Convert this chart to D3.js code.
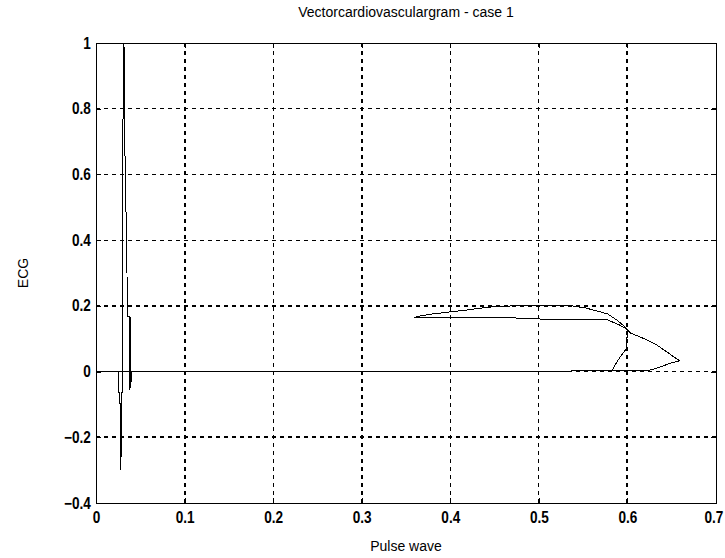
<!DOCTYPE html>
<html>
<head>
<meta charset="utf-8">
<script src="https://cdn.jsdelivr.net/npm/d3@7/dist/d3.min.js"></script>
<style>
  body { margin: 0; background: #fff; }
  text { font-family: "Liberation Sans", Arial, sans-serif; fill: #000; }
</style>
</head>
<body>
<svg id="chart"></svg>
<script>
// tick values
const xTicks = [0, 0.1, 0.2, 0.3, 0.4, 0.5, 0.6, 0.7]
const yTicks = [-0.4, -0.2, 0, 0.2, 0.4, 0.6, 0.8, 1]

// QRS part (pulse wave hardly moves)
const qrsPulse = [0.0250, 0.0250, 0.0270, 0.0275, 0.0280, 0.0285, 0.0290, 0.0297, 0.0296, 0.0308, 0.0312,
                  0.0320, 0.0318, 0.0325, 0.0338, 0.0343, 0.0350, 0.0352, 0.0375, 0.0378, 0.0386, 0.0390, 0.0405]
const qrsEcg   = [0.000, -0.065, -0.065, -0.217, -0.300, -0.217, -0.065, -0.062, 0.510, 0.850, 1.000,
                  0.980, 0.850, 0.696, 0.500, 0.416, 0.300, 0.169, 0.169, -0.056, 0.165, -0.050, 0.000]

// T wave loop + return along the baseline
const tPulse = [0.582, 0.586, 0.591, 0.599, 0.600, 0.599, 0.600, 0.591, 0.582, 0.576, 0.501, 0.466, 0.359,
                0.366, 0.376, 0.385, 0.398, 0.418, 0.434, 0.448, 0.471, 0.501, 0.537, 0.552, 0.565, 0.578,
                0.588, 0.597, 0.599, 0.603, 0.618, 0.633, 0.644, 0.652, 0.659, 0.648, 0.633, 0.622, 0.000]
const tEcg   = [0.000, 0.020, 0.041, 0.071, 0.129, 0.075, 0.128, 0.142, 0.152, 0.160, 0.160, 0.164, 0.165,
                0.169, 0.174, 0.177, 0.181, 0.187, 0.193, 0.197, 0.200, 0.200, 0.200, 0.194, 0.185, 0.175,
                0.157, 0.137, 0.129, 0.118, 0.101, 0.081, 0.061, 0.045, 0.033, 0.025, 0.010, 0.002, 0.000]

var margin = {top: 43, right: 9, bottom: 55, left: 96},
    width = 725 - margin.left - margin.right,
    height = 558 - margin.top - margin.bottom

var svg = d3.select("#chart")
    .attr("width", 725)
    .attr("height", 558)

var chart = svg.append("g")
    .attr("transform", "translate(" + margin.left + "," + margin.top + ")")

var x = d3.scaleLinear().domain([0, 0.7]).range([0, width])
var y = d3.scaleLinear().domain([-0.4, 1]).range([height, 0])

// some grid lines come out heavier in the original
var heavyX = [0.1, 0.3, 0.6], heavyY = [-0.2, 0.2]

chart.selectAll(".gx")
    .data(xTicks.slice(1, -1))
    .enter().append("line")
    .attr("x1", d => x(d)).attr("x2", d => x(d))
    .attr("y1", 0).attr("y2", height)
    .attr("stroke", "#000")
    .attr("stroke-width", d => heavyX.includes(d) ? 2 : 1)
    .attr("stroke-dasharray", "4,4")
    .attr("shape-rendering", "crispEdges")

chart.selectAll(".gy")
    .data(yTicks.slice(1, -1))
    .enter().append("line")
    .attr("x1", 0).attr("x2", width)
    .attr("y1", d => y(d)).attr("y2", d => y(d))
    .attr("stroke", "#000")
    .attr("stroke-width", d => heavyY.includes(d) ? 2 : 1)
    .attr("stroke-dasharray", "4,4")
    .attr("shape-rendering", "crispEdges")

// data
var line = d3.line().x(d => x(d[0])).y(d => y(d[1]))

chart.append("path")
    .datum(d3.zip(qrsPulse, qrsEcg))
    .attr("d", line)
    .attr("fill", "none")
    .attr("stroke", "#000")
    .attr("stroke-width", 1)
    .attr("shape-rendering", "crispEdges")

chart.append("path")
    .datum(d3.zip(tPulse, tEcg))
    .attr("d", line)
    .attr("fill", "none")
    .attr("stroke", "#000")
    .attr("stroke-width", 1)
    .attr("shape-rendering", "crispEdges")

// axes, ticks inside like matlab
var fmt = d3.format("")
var xAxis = chart.append("g")
    .attr("transform", "translate(0," + height + ")")
    .call(d3.axisBottom(x).tickValues(xTicks).tickSize(-5).tickPadding(9).tickFormat(fmt))
chart.append("g")
    .call(d3.axisLeft(y).tickValues(yTicks).tickSize(-5).tickPadding(6).tickFormat(fmt))
chart.append("g")
    .call(d3.axisTop(x).tickValues(xTicks).tickSize(-5).tickFormat(""))
chart.append("g")
    .attr("transform", "translate(" + width + ",0)")
    .call(d3.axisRight(y).tickValues(yTicks).tickSize(-5).tickFormat(""))

chart.selectAll(".domain").remove()
chart.selectAll(".tick line").attr("stroke", "#000").attr("shape-rendering", "crispEdges")
// narrow bold digits like the old matlab screen font
chart.selectAll(".tick text")
    .style("font-family", "'Liberation Sans', Arial, sans-serif")
    .style("font-size", "16px")
    .style("font-weight", "bold")
    .attr("transform", "scale(0.85,1)")
    .attr("fill", "#000")
// keep the last x label inside the window
xAxis.selectAll(".tick:last-of-type text").attr("dx", "-3")

chart.append("rect")
    .attr("width", width).attr("height", height)
    .attr("fill", "none")
    .attr("stroke", "#000")
    .attr("shape-rendering", "crispEdges")

// labels
chart.append("text")
    .attr("x", width / 2).attr("y", -26)
    .attr("text-anchor", "middle")
    .style("font-size", "14px")
    .text("Vectorcardiovasculargram - case 1")

chart.append("text")
    .attr("x", width / 2).attr("y", height + 48)
    .attr("text-anchor", "middle")
    .style("font-size", "14px")
    .text("Pulse wave")

chart.append("text")
    .attr("transform", "translate(" + (-68) + "," + (height / 2) + ") rotate(-90)")
    .attr("text-anchor", "middle")
    .style("font-size", "14px")
    .text("ECG")
</script>
</body>
</html>
